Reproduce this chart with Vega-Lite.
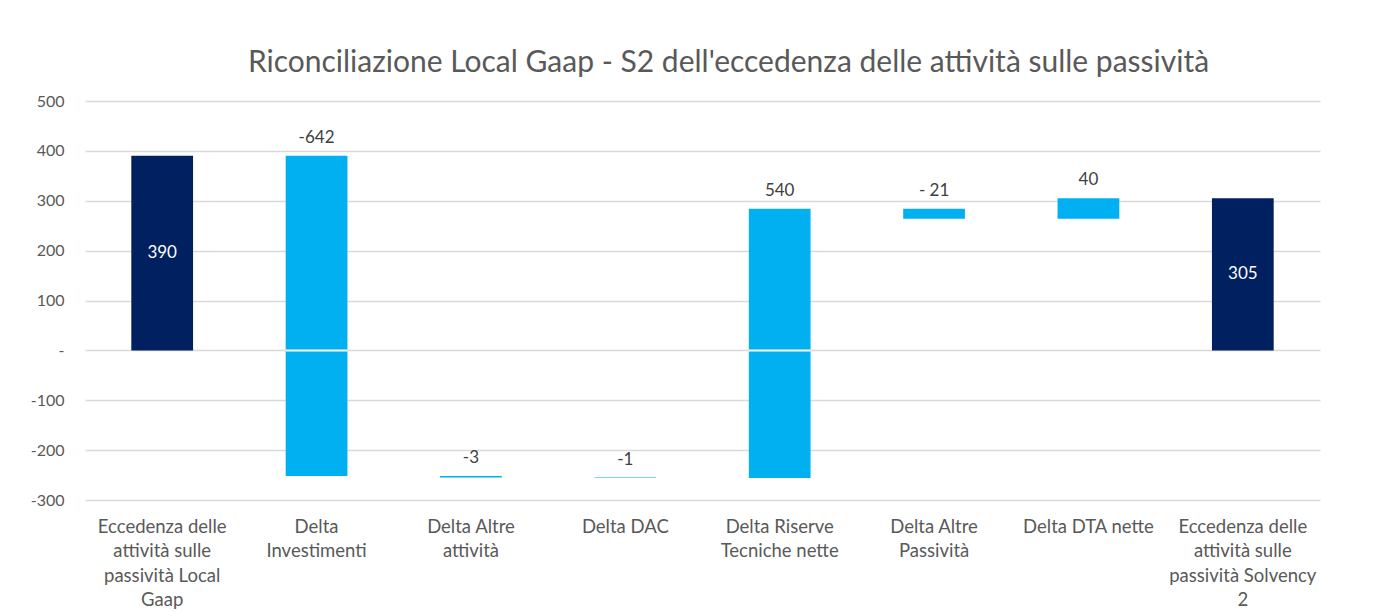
{
  "$schema": "https://vega.github.io/schema/vega-lite/v6.json",
  "width": 1235,
  "height": 399,
  "autosize": {"type": "none"},
  "padding": {"left": 85, "top": 101, "right": 54, "bottom": 112},
  "background": "white",
  "title": {
    "text": "Riconciliazione Local Gaap - S2 dell'eccedenza  delle attività sulle passività",
    "font": "Lato",
    "fontSize": 30,
    "fontWeight": "normal",
    "color": "#595959",
    "anchor": "middle",
    "dx": 26,
    "offset": 15
  },
  "data": {
    "values": [
      {"label": "Eccedenza delle|attività sulle|passività Local|Gaap", "start": 0, "end": 390, "text": "390", "kind": "total"},
      {"label": "Delta|Investimenti", "start": 390, "end": -252, "text": "-642", "kind": "delta"},
      {"label": "Delta Altre|attività", "start": -252, "end": -255, "text": "-3", "kind": "delta"},
      {"label": "Delta DAC", "start": -255, "end": -256, "text": "-1", "kind": "delta"},
      {"label": "Delta Riserve|Tecniche nette", "start": -256, "end": 284, "text": "540", "kind": "delta"},
      {"label": "Delta Altre|Passività", "start": 284, "end": 264, "text": "- 21", "kind": "delta"},
      {"label": "Delta DTA nette", "start": 264, "end": 305, "text": "40", "kind": "delta"},
      {"label": "Eccedenza delle|attività sulle|passività Solvency|2", "start": 0, "end": 305, "text": "305", "kind": "total"}
    ]
  },
  "encoding": {
    "x": {
      "field": "label",
      "type": "nominal",
      "sort": null,
      "scale": {"paddingInner": 0.6, "paddingOuter": 0.3},
      "axis": {
        "title": null,
        "labelAngle": 0,
        "labelExpr": "split(datum.label, '|')",
        "labelFont": "Lato",
        "labelFontSize": 18.5,
        "labelColor": "#595959",
        "labelLineHeight": 24.5,
        "labelPadding": 17,
        "labelBaseline": "top",
        "domain": false,
        "ticks": false,
        "grid": false
      }
    }
  },
  "layer": [
    {
      "mark": {"type": "bar"},
      "encoding": {
        "y": {
          "field": "start",
          "type": "quantitative",
          "scale": {"domain": [-300, 500], "nice": false, "zero": false},
          "axis": {
            "title": null,
            "values": [-300, -200, -100, 0, 100, 200, 300, 400, 500],
            "labelExpr": "datum.value == 0 ? '-' : '' + datum.value",
            "labelFont": "Lato",
            "labelFontSize": 16,
            "labelColor": "#595959",
            "labelPadding": 21,
            "domain": false,
            "ticks": false,
            "grid": true,
            "gridColor": "#d9d9d9",
            "gridWidth": 1.5
          }
        },
        "y2": {"field": "end"},
        "color": {
          "field": "kind",
          "type": "nominal",
          "scale": {"domain": ["total", "delta"], "range": ["#002060", "#00b0f0"]},
          "legend": null
        }
      }
    },
    {
      "transform": [{"filter": "datum.start < 0 && datum.end > 0 || datum.start > 0 && datum.end < 0"}],
      "mark": {"type": "tick", "color": "white", "size": 62, "thickness": 2, "opacity": 1},
      "encoding": {
        "y": {"datum": 0, "type": "quantitative"}
      }
    },
    {
      "transform": [{"filter": "datum.kind == 'delta' && datum.end > datum.start"}],
      "mark": {"type": "text", "font": "Lato", "fontSize": 17, "color": "#404040", "baseline": "bottom", "dy": -9},
      "encoding": {
        "y": {"field": "end", "type": "quantitative"},
        "text": {"field": "text"}
      }
    },
    {
      "transform": [{"filter": "datum.kind == 'delta' && datum.end < datum.start"}],
      "mark": {"type": "text", "font": "Lato", "fontSize": 17, "color": "#404040", "baseline": "bottom", "dy": -9},
      "encoding": {
        "y": {"field": "start", "type": "quantitative"},
        "text": {"field": "text"}
      }
    },
    {
      "transform": [
        {"filter": "datum.kind == 'total'"},
        {"fold": ["start", "end"], "as": ["edge", "level"]}
      ],
      "mark": {"type": "text", "font": "Lato", "fontSize": 17, "color": "white", "baseline": "middle"},
      "encoding": {
        "y": {"field": "level", "type": "quantitative", "aggregate": "mean"},
        "text": {"field": "text"}
      }
    }
  ],
  "config": {"view": {"stroke": null}}
}
